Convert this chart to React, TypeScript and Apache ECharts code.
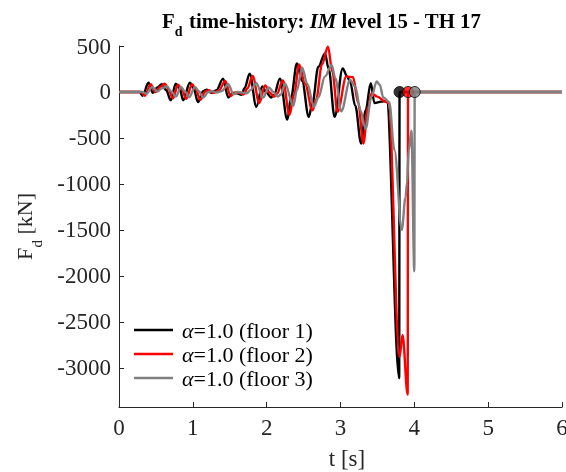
import React, { useEffect, useRef } from 'react';
import * as echarts from 'echarts';

const FONT = '"Liberation Serif", "Times New Roman", Times, serif';

const seriesNames = ['α=1.0 (floor 1)', 'α=1.0 (floor 2)', 'α=1.0 (floor 3)'];
const seriesColors = ['#000000', '#ff0000', '#808080'];

// [t (s), Fd (kN)]
const floor1: [number, number][] = [
  [0, 0], [0.28, 0], [0.32, -40], [0.4, 100], [0.46, -10], [0.52, 50], [0.58, 85], [0.64, 20],
  [0.7, -90], [0.77, 90], [0.82, 40], [0.87, -90], [0.96, 100], [1.01, 40], [1.07, -110],
  [1.14, 10], [1.19, 25], [1.25, -10], [1.32, 20], [1.41, 145], [1.48, -60], [1.54, -10],
  [1.6, -15], [1.66, -30], [1.7, 40], [1.77, 200], [1.86, -160], [1.94, 60], [2.0, -10],
  [2.06, -60], [2.1, -30], [2.18, 145], [2.28, -300], [2.33, -60], [2.41, 310], [2.48, 120],
  [2.57, -270], [2.62, -120], [2.7, 275], [2.79, 420], [2.84, 250], [2.92, -270], [3.03, 257],
  [3.09, 170], [3.13, 110], [3.2, -150], [3.28, -560], [3.34, -200], [3.41, 95], [3.46, -120],
  [3.55, -105], [3.625, -100], [3.795, -3110], [3.8, 0], [6, 0],
];

const floor2: [number, number][] = [
  [0, 0], [0.3, 0], [0.35, -40], [0.43, 85], [0.49, 0], [0.56, 55], [0.62, 90], [0.67, 30],
  [0.73, -70], [0.8, 80], [0.85, 30], [0.91, -75], [0.99, 85], [1.04, 30], [1.1, -85],
  [1.17, 5], [1.22, 20], [1.28, -10], [1.35, 15], [1.44, 120], [1.51, -45], [1.57, -5],
  [1.63, -10], [1.69, -25], [1.74, 40], [1.81, 175], [1.9, -120], [1.98, 70], [2.04, -5],
  [2.1, -50], [2.14, -20], [2.22, 125], [2.31, -250], [2.37, -30], [2.44, 300], [2.52, 90],
  [2.62, -200], [2.67, -80], [2.75, 300], [2.83, 492], [2.89, 220], [2.96, -215], [3.08, 170],
  [3.17, 160], [3.24, -120], [3.31, -560], [3.37, -180], [3.42, -15], [3.5, -50], [3.6, -100],
  [3.65, -120], [3.8, -2880], [3.84, -2640], [3.91, -3290], [3.915, 0], [6, 0],
];

const floor3: [number, number][] = [
  [0, 0], [0.32, 0], [0.37, -20], [0.45, 55], [0.52, 5], [0.58, 40], [0.65, 60], [0.71, 5],
  [0.77, -50], [0.84, 55], [0.89, 10], [0.95, -55], [1.03, 55], [1.08, 10], [1.14, -60],
  [1.21, 0], [1.26, 10], [1.32, -5], [1.39, 10], [1.48, 85], [1.55, -25], [1.61, 0],
  [1.67, -5], [1.73, -15], [1.78, 20], [1.86, 95], [1.95, -60], [2.03, 50], [2.09, 0],
  [2.15, -50], [2.19, -30], [2.25, 90], [2.36, -150], [2.41, 20], [2.48, 265], [2.55, 90],
  [2.64, -160], [2.7, -60], [2.79, 170], [2.88, 295], [2.93, 150], [3.01, -210], [3.13, 130],
  [3.2, 60], [3.27, -200], [3.34, -400], [3.42, -50], [3.49, 115], [3.53, 80], [3.58, -60],
  [3.66, -110], [3.73, -630], [3.83, -1500], [3.88, -1150], [3.9, -990], [3.925, -630],
  [3.96, -420], [4.0, -1950], [4.005, 0], [6, 0],
];

const failureTimes = [3.8, 3.915, 4.005];
const failureForces = [0, 0, 0];

const yTicks = [500, 0, -500, -1000, -1500, -2000, -2500, -3000];
const xTicks = [0, 1, 2, 3, 4, 5, 6];

const AXIS = '#262626';

export default function App() {
  const ref = useRef<HTMLDivElement>(null);
  useEffect(() => {
    const chart = echarts.init(ref.current!, null, { renderer: 'svg' });
    const lines = [floor1, floor2, floor3].map((d, i) => ({
      type: 'line',
      name: seriesNames[i],
      data: d,
      showSymbol: false,
      symbol: 'none',
      smooth: 0.35,
      smoothMonotone: 'x',
      lineStyle: { width: 2.4, color: seriesColors[i] },
      itemStyle: { color: seriesColors[i] },
      z: 2 + i,
    }));
    const option: any = {
      animation: false,
      textStyle: { fontFamily: FONT },
      grid: { left: 119, right: 4, top: 46, bottom: 65, outerBoundsMode: 'none', containLabel: false },
      xAxis: {
        type: 'value',
        min: xTicks[0],
        max: xTicks[xTicks.length - 1],
        interval: 1,
        axisLine: { onZero: false, lineStyle: { color: AXIS, width: 1 } },
        axisTick: { inside: true, length: 5, lineStyle: { color: AXIS } },
        splitLine: { show: false },
        axisLabel: { fontFamily: FONT, fontSize: 23, color: AXIS, margin: 9 },
      },
      yAxis: {
        type: 'value',
        min: -3424,
        max: 500,
        axisLine: { show: true, onZero: false, lineStyle: { color: AXIS, width: 1 } },
        axisTick: { show: true, inside: true, length: 5, lineStyle: { color: AXIS }, customValues: yTicks },
        splitLine: { show: false },
        axisLabel: {
          fontFamily: FONT, fontSize: 23, color: AXIS, margin: 8, customValues: yTicks,
          formatter: (v: number) => `{v|${String(v)}}`,
          rich: { v: { fontFamily: FONT, fontSize: 23, color: AXIS } },
        },
      },
      legend: {
        data: seriesNames,
        orient: 'vertical',
        left: 134,
        top: 319,
        padding: 0,
        icon: 'rect',
        itemWidth: 39,
        itemHeight: 2.4,
        itemGap: 2,
        formatter: (name: string) => `{a|α}{n|${name.slice(1)}}`,
        textStyle: {
          fontFamily: FONT,
          fontSize: 22,
          color: '#000',
          lineHeight: 22,
          padding: [0, 0, 0, 4],
          rich: {
            a: { fontFamily: FONT, fontSize: 22, fontStyle: 'italic', color: '#000' },
            n: { fontFamily: FONT, fontSize: 22, color: '#000' },
          },
        },
      },
      series: [
        ...lines,
        {
          type: 'scatter',
          name: 'failure',
          data: failureTimes.map((t, i) => ({
            value: [t, failureForces[i]],
            itemStyle: { color: seriesColors[i] },
          })),
          symbol: 'circle',
          symbolSize: 11,
          itemStyle: { borderColor: '#000', borderWidth: 1 },
          z: 10,
        },
      ],
      graphic: [
        { type: 'text', x: 162, y: 20, style: { text: 'F', fontFamily: FONT, fontSize: 20.8, fontWeight: 'bold', fill: '#000', align: 'left', verticalAlign: 'middle' } },
        { type: 'text', x: 174.8, y: 31, style: { text: 'd', fontFamily: FONT, fontSize: 14, fontWeight: 'bold', fill: '#000', align: 'left', verticalAlign: 'middle' } },
        {
          type: 'text', x: 189, y: 20,
          style: {
            text: '{b|time-history:} {i|IM} {b|level 15 - TH 17}',
            fontFamily: FONT, fontSize: 20.8, fontWeight: 'bold', fill: '#000', align: 'left', verticalAlign: 'middle',
            rich: {
              b: { fontFamily: FONT, fontSize: 20.8, fontWeight: 'bold', fill: '#000' },
              i: { fontFamily: FONT, fontSize: 20.8, fontWeight: 'bold', fontStyle: 'italic', fill: '#000' },
            },
          },
        },
        {
          type: 'group', x: 24.5, y: 260, rotation: Math.PI / 2,
          children: [
            { type: 'text', x: 0, y: 0, style: { text: 'F', fontFamily: FONT, fontSize: 22, fill: AXIS, align: 'left', verticalAlign: 'middle' } },
            { type: 'text', x: 12.5, y: 12, style: { text: 'd', fontFamily: FONT, fontSize: 15, fill: AXIS, align: 'left', verticalAlign: 'middle' } },
            { type: 'text', x: 25.5, y: 0, style: { text: '[kN]', fontFamily: FONT, fontSize: 22, fill: AXIS, align: 'left', verticalAlign: 'middle' } },
          ],
        },
        { type: 'text', x: 347, y: 458, style: { text: 't [s]', fontFamily: FONT, fontSize: 23, fill: AXIS, align: 'center', verticalAlign: 'middle' } },
      ],
    };
    chart.setOption(option);
    return () => chart.dispose();
  }, []);
  return <div ref={ref} style={{ position: 'fixed', left: 0, top: 0, width: 566, height: 472 }} />;
}
